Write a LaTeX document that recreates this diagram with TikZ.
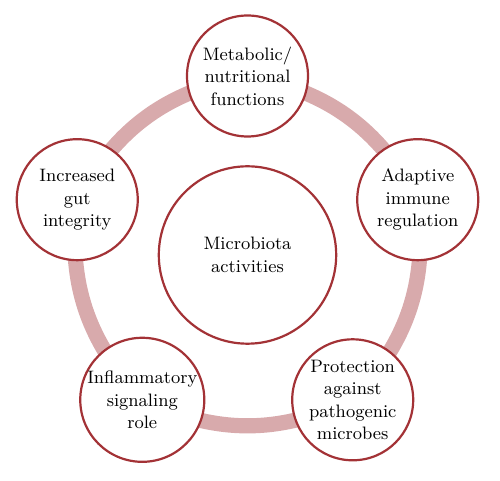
\documentclass[tikz,border=0pt]{standalone}
\usetikzlibrary{backgrounds}
\definecolor{rimred}{RGB}{163,50,54}
\definecolor{ringpink}{RGB}{216,170,172}
\tikzset{
  activity/.style={circle, draw=rimred, line width=1.1pt, fill=white,
    minimum size=60.5pt, inner sep=0pt, align=center},
  hub/.style={activity, minimum size=88.7pt},
  ringarc/.style={draw=ringpink, line width=7.6pt}
}
\begin{document}
\begin{tikzpicture}[font=\fontsize{9}{11.2}\selectfont]
    \useasboundingbox (-123.75pt,-113pt) rectangle (126.25pt,127.5pt);

    % Central node
    \node[hub] (hub) at (0,0) {Microbiota\\activities};

    % Activities around the hub
    \node[activity] (meta)  at (90:89.5pt)   {Metabolic/\\nutritional\\functions};
    \node[activity] (gut)   at (162:89.5pt)  {Increased\\gut\\integrity};
    \node[activity] (infl)  at (234:89.5pt)  {Inflammatory\\signaling\\role};
    \node[activity] (prot)  at (306:89.5pt)  {Protection\\against\\pathogenic\\microbes};
    \node[activity] (adapt) at (18:89.5pt)   {Adaptive\\immune\\regulation};

    % Ring joining the activities
    \begin{scope}[on background layer]
        \draw[ringarc] (meta.center)  to[bend right=25] (gut.center);
        \draw[ringarc] (gut.center)   to[bend right=25] (infl.center);
        \draw[ringarc] (infl.center)  to[bend right=25] (prot.center);
        \draw[ringarc] (prot.center)  to[bend right=25] (adapt.center);
        \draw[ringarc] (adapt.center) to[bend right=25] (meta.center);
    \end{scope}
\end{tikzpicture}
\end{document}
